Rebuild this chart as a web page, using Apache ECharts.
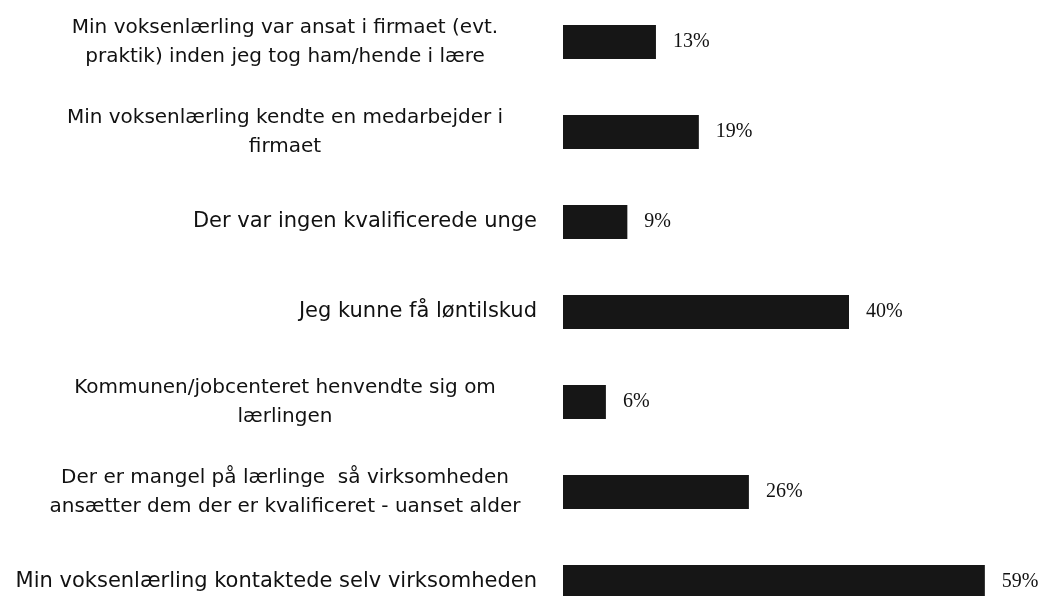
<!DOCTYPE html>
<html>
<head>
<meta charset="utf-8">
<script src="https://cdn.jsdelivr.net/npm/echarts@6/dist/echarts.min.js"></script>
<style>
html,body{margin:0;padding:0;background:#fff;}
#chart{width:1050px;height:596px;}
</style>
</head>
<body>
<div id="chart"></div>
<script>
// Categories listed top to bottom
const categories = [
  "Min voksenlærling var ansat i firmaet (evt.\npraktik) inden jeg tog ham/hende i lære",
  "Min voksenlærling kendte en medarbejder i\nfirmaet",
  "Der var ingen kvalificerede unge",
  "Jeg kunne få løntilskud",
  "Kommunen/jobcenteret henvendte sig om\nlærlingen",
  "Der er mangel på lærlinge  så virksomheden\nansætter dem der er kvalificeret - uanset alder",
  "Min voksenlærling kontaktede selv virksomheden"
];
const values = [13, 19, 9, 40, 6, 26, 59];

const chart = echarts.init(document.getElementById('chart'));
chart.setOption({
  backgroundColor: '#ffffff',
  animation: false,
  grid: { left: 563, top: -3, width: 715, height: 630, containLabel: false, outerBoundsMode: 'none' },
  xAxis: {
    type: 'value', min: 0, max: 100, show: false
  },
  yAxis: {
    type: 'category',
    inverse: true,
    data: categories,
    axisLine: { show: false },
    axisTick: { show: false },
    splitLine: { show: false },
    axisLabel: {
      margin: 26,
      fontFamily: 'DejaVu Sans',
      fontSize: 21,
      color: '#111',
      lineHeight: 29,
      formatter: function (v) {
        if (v.indexOf('\n') >= 0) {
          return v.split('\n').map(function (l) { return '{c|' + l + '}'; }).join('\n');
        }
        return v;
      },
      rich: {
        c: { width: 504, align: 'center', fontFamily: 'DejaVu Sans', fontSize: 20, color: '#111', lineHeight: 29 }
      }
    }
  },
  series: [{
    type: 'bar',
    data: values,
    barWidth: 34,
    itemStyle: { color: '#161616' },
    label: {
      show: true,
      position: 'right',
      distance: 17,
      formatter: '{c}%',
      fontFamily: 'Liberation Serif',
      fontSize: 20,
      color: '#111'
    }
  }]
});
</script>
</body>
</html>
